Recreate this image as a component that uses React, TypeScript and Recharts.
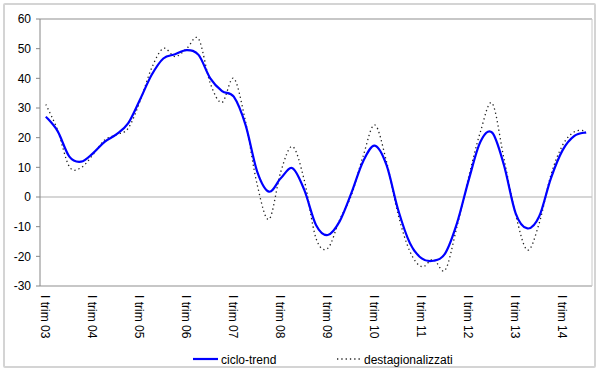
import React from 'react';
import { LineChart, Line, XAxis, YAxis, CartesianGrid, ReferenceLine } from 'recharts';

const quarters: string[] = [
  'I trim 03', 'II trim 03', 'III trim 03', 'IV trim 03',
  'I trim 04', 'II trim 04', 'III trim 04', 'IV trim 04',
  'I trim 05', 'II trim 05', 'III trim 05', 'IV trim 05',
  'I trim 06', 'II trim 06', 'III trim 06', 'IV trim 06',
  'I trim 07', 'II trim 07', 'III trim 07', 'IV trim 07',
  'I trim 08', 'II trim 08', 'III trim 08', 'IV trim 08',
  'I trim 09', 'II trim 09', 'III trim 09', 'IV trim 09',
  'I trim 10', 'II trim 10', 'III trim 10', 'IV trim 10',
  'I trim 11', 'II trim 11', 'III trim 11', 'IV trim 11',
  'I trim 12', 'II trim 12', 'III trim 12', 'IV trim 12',
  'I trim 13', 'II trim 13', 'III trim 13', 'IV trim 13',
  'I trim 14', 'II trim 14', 'III trim 14',
];

const cicloTrend: number[] = [
  27.1, 22.2, 13.6, 11.9, 14.7, 18.6, 21.1, 24.8,
  32.7, 41.1, 46.7, 48.1, 49.5, 47.9, 40.0, 35.7,
  33.8, 24.3, 8.5, 1.8, 6.3, 9.7, 2.4, -9.4,
  -12.8, -8.3, 1.2, 11.9, 17.3, 10.8, -4.4, -15.6,
  -20.7, -21.5, -19.0, -8.9, 5.7, 18.6, 21.7, 10.8,
  -5.5, -10.6, -6.6, 6.3, 15.8, 20.6, 21.8,
];

const destagionalizzati: number[] = [
  31.2, 22.5, 10.2, 9.9, 14.2, 19.2, 21.0, 23.1,
  32.1, 43.4, 50.1, 47.3, 50.1, 53.3, 38.3, 31.9,
  40.0, 25.4, 4.0, -7.5, 8.5, 17.0, 5.7, -13.9,
  -17.3, -7.8, 0.5, 13.6, 24.3, 12.0, -6.0, -18.4,
  -23.5, -21.0, -24.6, -10.0, 6.8, 22.0, 31.6, 13.0,
  -6.0, -17.9, -8.9, 7.4, 17.5, 22.0, 22.3,
];

const yTicks: number[] = [-30, -20, -10, 0, 10, 20, 30, 40, 50, 60];

const seriesNames = { trend: 'ciclo-trend', sa: 'destagionalizzati' };

const data = quarters.map((q, i) => ({
  q,
  trend: cicloTrend[i],
  sa: destagionalizzati[i],
}));

const FONT = '"Liberation Sans", Arial, sans-serif';

// Excel-like smoothed line (Catmull-Rom style Bezier segments)
const smoothCurve: any = (context: any) => {
  let pts: number[][] = [];
  return {
    areaStart() {},
    areaEnd() {},
    lineStart() {
      pts = [];
    },
    point(x: number, y: number) {
      pts.push([+x, +y]);
    },
    lineEnd() {
      const n = pts.length;
      if (!n) return;
      context.moveTo(pts[0][0], pts[0][1]);
      for (let i = 0; i < n - 1; i++) {
        const p0 = pts[i - 1] || pts[i];
        const p1 = pts[i];
        const p2 = pts[i + 1];
        const p3 = pts[i + 2] || p2;
        context.bezierCurveTo(
          p1[0] + (p2[0] - p0[0]) / 6,
          p1[1] + (p2[1] - p0[1]) / 6,
          p2[0] - (p3[0] - p1[0]) / 6,
          p2[1] - (p3[1] - p1[1]) / 6,
          p2[0],
          p2[1]
        );
      }
    },
  };
};

const XTick = (props: any) => {
  const { x, y, payload } = props;
  return (
    <text
      transform={`translate(${x - 1},${y + 1}) rotate(90)`}
      textAnchor="start"
      dominantBaseline="central"
      fontSize={12}
      fontFamily={FONT}
      fill="#000"
    >
      {payload.value}
    </text>
  );
};

export default function App() {
  return (
    <div style={{ position: 'absolute', left: 0, top: 0, width: 600, height: 372, background: '#fff' }}>
      <div
        style={{
          position: 'absolute',
          left: 3,
          top: 3,
          width: 589,
          height: 361,
          border: '2px solid #d4d4d4',
          borderRadius: 2,
        }}
      />
      <div style={{ position: 'absolute', left: 0, top: 0 }}>
        <LineChart
          width={600}
          height={372}
          data={data}
          margin={{ top: 19, right: 0, bottom: 0, left: 4 }}
          style={{ fontFamily: FONT }}
        >
          <CartesianGrid vertical={false} stroke="#868686" strokeWidth={1} />
          <XAxis
            dataKey="q"
            scale="band"
            interval={3}
            height={86}
            axisLine={false}
            tickLine={false}
            tick={<XTick />}
            tickSize={6}
            tickMargin={2}
          />
          <YAxis
            yAxisId="left"
            domain={[-30, 60]}
            ticks={yTicks}
            width={36}
            interval={0}
            axisLine={{ stroke: '#868686' }}
            tickLine={{ stroke: '#868686' }}
            tickSize={4}
            tickMargin={5}
            tick={{ fontSize: 12, fill: '#000', fontFamily: FONT }}
          />
          <YAxis
            yAxisId="right"
            orientation="right"
            domain={[-30, 60]}
            width={8}
            tick={false}
            tickLine={false}
            axisLine={{ stroke: '#c8c8c8' }}
          />
          <ReferenceLine yAxisId="left" y={60} stroke="#c8c8c8" strokeWidth={1.5} />
          <ReferenceLine yAxisId="left" y={-30} stroke="#c8c8c8" strokeWidth={1.5} />
          <ReferenceLine yAxisId="left" y={0} stroke="#c8c8c8" strokeWidth={1.5} />
          <Line
            yAxisId="left"
            type={smoothCurve}
            dataKey="sa"
            name={seriesNames.sa}
            stroke="#222"
            strokeWidth={1.3}
            strokeDasharray="1.3 3"
            dot={false}
            isAnimationActive={false}
          />
          <Line
            yAxisId="left"
            type={smoothCurve}
            dataKey="trend"
            name={seriesNames.trend}
            stroke="#0000ff"
            strokeWidth={2.2}
            dot={false}
            isAnimationActive={false}
          />
        </LineChart>
      </div>
      <svg
        width={600}
        height={372}
        style={{ position: 'absolute', left: 0, top: 0, pointerEvents: 'none' }}
      >
        <line x1={193} y1={359} x2={218} y2={359} stroke="#0000ff" strokeWidth={2.2} />
        <text x={221} y={364} fontSize={12} fontFamily={FONT} fill="#000">
          {seriesNames.trend}
        </text>
        <line x1={337} y1={359} x2={362} y2={359} stroke="#222" strokeWidth={1.3} strokeDasharray="1.3 3" />
        <text x={364} y={364} fontSize={12} fontFamily={FONT} fill="#000">
          {seriesNames.sa}
        </text>
      </svg>
    </div>
  );
}
